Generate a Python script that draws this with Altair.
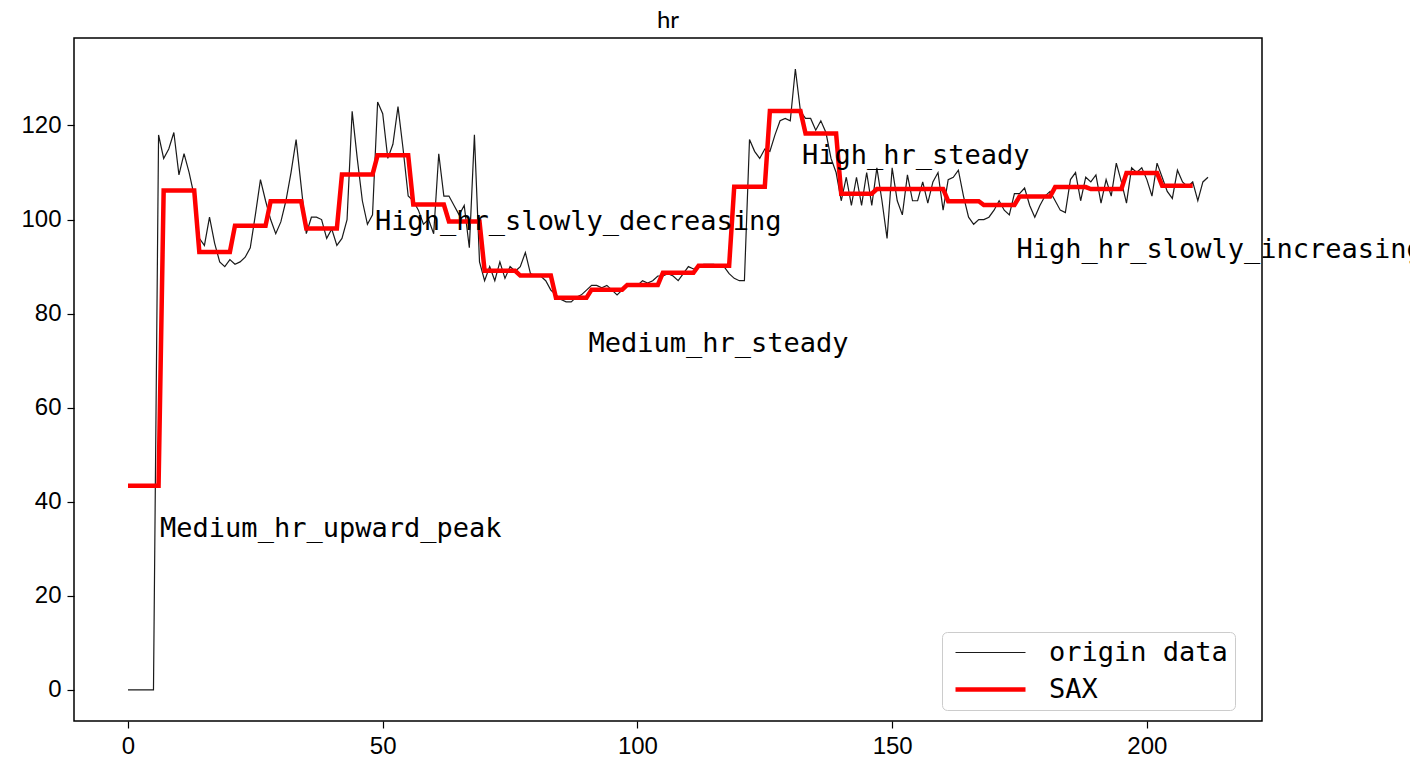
import altair as alt
import pandas as pd

title_text = "hr"

origin_hr = [
    0, 0, 0, 0, 0, 0, 118, 113, 115, 118.5,
    109.5, 114, 110, 105, 96, 94.5, 100.5, 95, 91, 90,
    91.5, 90.5, 91, 92, 94, 101, 108.5, 104, 100, 97,
    99.5, 104, 110, 117, 107, 97, 100.5, 100.5, 100, 96,
    98, 94.5, 96, 100, 123, 113, 104, 99, 101, 125,
    122.5, 113, 116, 124, 115, 105, 104, 102, 99, 100,
    97, 114, 105, 105, 103, 101, 103, 94, 118, 91,
    87, 90, 87, 91, 87.5, 90, 89, 90, 93, 88.5,
    88, 88, 87, 85, 84, 83, 82.5, 82.5, 83.5, 84,
    85, 86, 86, 85.5, 86, 85, 84, 85, 86, 86,
    86, 87, 86.5, 87, 88, 88, 88.5, 88, 87, 88.5,
    90, 89.5, 90, 90.5, 90.5, 90.5, 90, 90, 88.5, 87.5,
    87, 87, 117, 114.5, 113, 115, 114.5, 118, 121, 121.5,
    121, 132, 123, 121.5, 121.5, 119, 121, 118.5, 113, 110,
    104, 109, 103, 109, 103, 110, 103, 111, 104, 96,
    111, 104, 101, 109.5, 104, 104, 108, 103.5, 108, 110,
    102, 108.5, 109, 110.5, 105, 100.5, 99, 100, 100, 100.5,
    102, 104, 102, 101, 105.5, 105.5, 106.7, 103, 100.5, 103,
    105, 106, 104, 102, 101.5, 108.5, 110, 104, 109, 108,
    109.5, 103.5, 108.5, 105, 112, 108, 103.5, 111, 110, 111,
    108.5, 105, 112, 109, 106, 104.5, 110.5, 108, 107, 108,
    104, 108, 109,
]

sax_levels = [
    43.4, 106.2, 93.1, 98.7, 103.9, 98.1, 109.6, 113.7, 103.2, 99.6,
    89.1, 88.1, 83.4, 85.1, 86.1, 88.7, 90.2, 107.0, 123.1, 118.3,
    105.5, 106.5, 106.5, 103.9, 103.1, 104.9, 106.9, 106.5, 109.9, 107.2,
]
sax_segment_len = 7

series_names = ["origin data", "SAX"]
series_colors = ["#1a1a1a", "#ff0000"]
series_widths = [1.2, 4.5]

annot_text = [
    "Medium_hr_upward_peak",
    "High_hr_slowly_decreasing",
    "Medium_hr_steady",
    "High_hr_steady",
    "High_hr_slowly_increasing",
]
annot_x = [6.3, 48.5, 90.4, 132.3, 174.4]
annot_y = [32.5, 97.8, 71.8, 111.8, 91.8]

x_ticks = [0, 50, 100, 150, 200]
y_ticks = [0, 20, 40, 60, 80, 100, 120]

rows = []
for i, v in enumerate(origin_hr):
    rows.append({"t": i, "hr": v, "series": series_names[0]})
for k, lv in enumerate(sax_levels):
    for j in range(sax_segment_len):
        rows.append({"t": k * sax_segment_len + j, "hr": lv, "series": series_names[1]})
df = pd.DataFrame(rows)

ann = pd.DataFrame({"t": annot_x, "hr": annot_y, "label": annot_text})

x_scale = alt.Scale(domain=[-10.6, 222.6], nice=False, zero=False)
y_scale = alt.Scale(domain=[-6.6, 138.6], nice=False, zero=False)
color_scale = alt.Scale(domain=series_names, range=series_colors)
sw_scale = alt.Scale(domain=series_names, range=series_widths)

x_axis = alt.Axis(values=x_ticks, title=None, grid=False, domain=False,
                  tickSize=7, tickWidth=1.2, tickColor="black",
                  labelFont="Liberation Sans", labelFontSize=24, labelColor="black",
                  labelPadding=6)
y_axis = alt.Axis(values=y_ticks, title=None, grid=False, domain=False,
                  tickSize=7, tickWidth=1.2, tickColor="black",
                  labelFont="Liberation Sans", labelFontSize=24, labelColor="black",
                  labelPadding=6)

legend_def = alt.Legend(
    title=None,
    orient="none",
    legendX=868,
    legendY=594,
    symbolType="M-3.5,0L3.5,0",
    symbolSize=400,
    symbolOffset=28,
    labelOffset=45,
    labelLimit=400,
    labelFont="DejaVu Sans Mono",
    labelFontSize=27,
    labelColor="black",
    fillColor="white",
    strokeColor="#cccccc",
    cornerRadius=5,
    padding=7,
    rowPadding=9,
)

base = alt.Chart(df).encode(
    x=alt.X("t:Q", scale=x_scale, axis=x_axis),
    y=alt.Y("hr:Q", scale=y_scale, axis=y_axis),
    color=alt.Color("series:N", scale=color_scale, legend=legend_def),
    strokeWidth=alt.StrokeWidth("series:N", scale=sw_scale, legend=legend_def),
)

orig = base.transform_filter(alt.datum.series == series_names[0]).mark_line()
sax = base.transform_filter(alt.datum.series == series_names[1]).mark_line()

text = alt.Chart(ann).mark_text(
    align="left", baseline="alphabetic", font="DejaVu Sans Mono",
    fontSize=27, color="black"
).encode(
    x=alt.X("t:Q", scale=x_scale, axis=x_axis),
    y=alt.Y("hr:Q", scale=y_scale, axis=y_axis),
    text="label:N",
)

chart = alt.layer(orig, sax, text).properties(
    width=1188,
    height=683,
    title=alt.TitleParams(title_text, fontSize=24, font="Lato", fontWeight="normal",
                          color="black", anchor="middle", offset=5),
    autosize=alt.AutoSizeParams(type="none"),
    padding={"left": 66, "top": 30, "right": 148, "bottom": 37},
).configure_view(
    stroke="black", strokeWidth=1.5
)

chart.save("out.html", embed_options={"renderer": "svg", "actions": False})
